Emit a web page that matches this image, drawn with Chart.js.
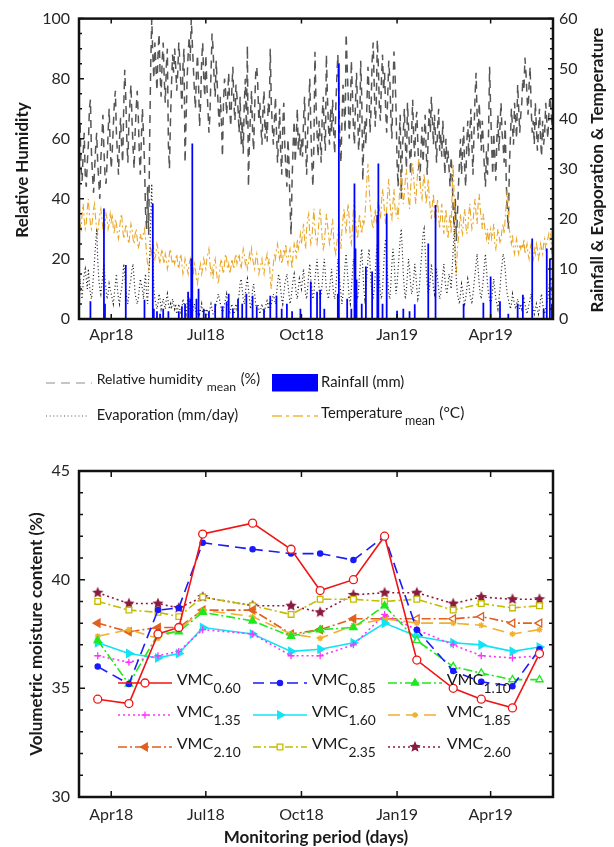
<!DOCTYPE html>
<html>
<head>
    <meta charset="utf-8">
    <title>Weather and soil moisture monitoring</title>
    <script src="https://cdn.jsdelivr.net/npm/chart.js"></script>
    <style>
        body {
            margin: 0;
            background: #ffffff;
        }

        #wrap {
            position: relative;
            width: 614px;
            height: 847px;
        }

        canvas {
            position: absolute;
            left: 0;
        }

        #weather { top: 0; }
        #moisture { top: 440px; }
    </style>
</head>
<body>
<div id="wrap">
    <canvas id="weather" width="614" height="440"></canvas>
    <canvas id="moisture" width="614" height="407"></canvas>
</div>

<script>
    // Day 0 is 1 Mar 2018, daily readings run until 31 May 2019
    const startDate = '2018-03-01';
    const tickDates = ['2018-04-01', '2018-07-01', '2018-10-01', '2019-01-01', '2019-04-01'];
    const tickLabels = ['Apr18', 'Jul18', 'Oct18', 'Jan19', 'Apr19'];

    // Relative humidity mean (%), one value per day (left axis)
    const humidity = [
        58, 66, 50, 46, 55, 62, 48, 44, 52, 58, 70, 73, 55, 48, 42, 50, 57, 62, 52, 46, 40, 53, 60, 68, 56, 48, 45, 52, 62, 70, 58,
        50, 56, 64, 72, 76, 62, 55, 48, 60, 67, 58, 52, 70, 83, 74, 60, 52, 65, 72, 78, 66, 57, 50, 62, 70, 76, 68, 55, 48, 60,
        70, 62, 52, 36, 30, 44, 28, 60, 85, 100, 88, 80, 92, 84, 76, 88, 95, 82, 74, 86, 92, 80, 72, 84, 90, 58, 50, 66, 78, 88, 82,
        90, 84, 76, 82, 92, 86, 78, 70, 84, 90, 52, 66, 80, 88, 94, 86, 100, 92, 84, 76, 70, 82, 88, 78, 64, 72, 86, 92, 80, 74,
        88, 78, 70, 62, 68, 82, 95, 90, 80, 74, 86, 78, 70, 64, 74, 66, 54, 72, 80, 76, 68, 74, 82, 70, 64, 76, 84, 72, 66, 78, 74,
        70, 62, 74, 58, 66, 55, 72, 80, 64, 91, 44, 60, 68, 76, 62, 56, 70, 82, 84, 78, 66, 72, 64, 58, 70, 76, 60, 66, 59, 72, 68,
        90, 72, 64, 58, 66, 74, 62, 52, 60, 70, 56, 48, 64, 72, 58, 50, 44, 60, 52, 38, 28, 46, 58, 66, 52, 60, 70, 56, 62, 54,
        60, 54, 66, 74, 58, 48, 62, 70, 80, 64, 52, 44, 58, 89, 72, 62, 54, 66, 60, 52, 68, 74, 62, 56, 88, 74, 64, 58, 70, 62, 73,
        62, 55, 70, 80, 88, 72, 60, 52, 66, 78, 70, 62, 95, 84, 74, 60, 68, 86, 76, 64, 58, 72, 82, 70, 56, 62, 86, 74, 46, 60,
        66, 58, 72, 84, 76, 62, 70, 86, 92, 78, 64, 72, 93, 84, 70, 66, 80, 88, 76, 82, 70, 62, 74, 86, 80, 68, 60, 76, 89, 82, 70,
        52, 44, 60, 68, 40, 56, 62, 70, 58, 50, 72, 64, 56, 48, 62, 73, 60, 54, 66, 69, 58, 50, 46, 56, 64, 52, 60, 68, 56, 48, 62,
        70, 62, 74, 66, 58, 68, 60, 52, 64, 70, 56, 62, 54, 66, 58, 48, 60, 52, 56, 50, 44, 54, 48, 36, 30, 40, 26, 34,
        44, 52, 60, 48, 56, 64, 50, 44, 58, 66, 54, 62, 70, 58, 48, 62, 74, 82, 68, 60, 72, 64, 56, 66, 58, 50, 44, 56, 48, 62, 84,
        70, 58, 48, 62, 54, 46, 60, 68, 56, 64, 72, 62, 58, 52, 66, 46, 36, 30, 50, 60, 70, 64, 58, 72, 66, 60, 78, 70, 62, 68,
        72, 80, 76, 87, 82, 74, 68, 78, 84, 70, 62, 66, 58, 72, 64, 56, 62, 70, 60, 54, 66, 58, 62, 72, 66, 60, 68, 74, 70, 64, 72
    ];

    // Temperature mean (°C), one value per day (right axis)
    const temperature = [
        22, 19, 18, 21, 23, 20, 18, 19, 22, 24, 21, 19, 18, 20, 22, 23, 20, 18, 17, 19, 21, 22, 20, 18, 17, 19, 21, 20, 18, 19, 21,
        19, 21, 18, 17, 20, 19, 17, 16, 18, 20, 21, 18, 16, 17, 19, 18, 16, 15, 17, 19, 18, 16, 15, 17, 18, 16, 14, 15, 17, 16,
        16, 17, 18, 16, 13, 11, 10, 12, 14, 13, 15, 14, 12, 13, 15, 14, 12, 11, 13, 14, 12, 11, 13, 12, 10, 11, 13, 14, 12, 11, 12,
        11, 12, 13, 11, 10, 12, 13, 11, 9, 10, 12, 11, 10, 9, 11, 12, 10, 8, 9, 11, 10, 8, 7, 9, 10, 11, 9, 10, 12, 11,
        10, 12, 13, 14, 11, 9, 10, 8, 11, 12, 10, 8, 7, 9, 11, 12, 10, 9, 11, 13, 12, 10, 11, 9, 10, 12, 11, 10, 12, 13, 11,
        12, 13, 11, 10, 12, 14, 13, 11, 12, 10, 11, 13, 12, 14, 12, 11, 10, 12, 13, 11, 9, 10, 11, 12, 10, 9, 11, 12, 13, 11, 12,
        8, 6, 9, 11, 13, 12, 14, 15, 13, 12, 14, 11, 12, 14, 13, 15, 12, 11, 13, 14, 12, 10, 13, 15, 14, 12, 16, 14, 15, 17,
        15, 17, 19, 16, 14, 18, 20, 21, 17, 15, 16, 19, 22, 18, 16, 15, 17, 20, 22, 19, 16, 14, 15, 18, 21, 19, 17, 15, 16, 18, 20,
        16, 14, 13, 15, 17, 19, 16, 14, 18, 20, 22, 19, 17, 21, 23, 20, 16, 15, 18, 22, 24, 20, 17, 16, 19, 21, 18, 17, 20, 19,
        20, 24, 28, 31, 27, 23, 21, 19, 18, 20, 22, 19, 21, 24, 22, 20, 23, 26, 24, 21, 19, 22, 25, 28, 24, 21, 20, 23, 26, 22, 21,
        22, 20, 24, 27, 29, 26, 23, 25, 28, 30, 27, 24, 22, 26, 29, 31, 28, 25, 23, 27, 30, 32, 28, 25, 24, 27, 29, 26, 23, 25, 28,
        24, 22, 20, 23, 25, 21, 19, 22, 24, 20, 18, 21, 23, 19, 17, 20, 22, 18, 16, 19, 21, 17, 26, 31, 24, 12, 9, 14,
        16, 19, 21, 18, 17, 20, 22, 19, 17, 18, 21, 23, 20, 18, 19, 22, 24, 21, 19, 23, 25, 22, 20, 18, 21, 19, 17, 16, 18, 15, 17,
        18, 16, 17, 19, 15, 14, 16, 18, 17, 15, 16, 18, 19, 17, 20, 23, 26, 22, 18, 16, 15, 17, 14, 13, 15, 16, 14, 13, 15, 14,
        15, 14, 16, 13, 14, 15, 13, 12, 14, 15, 13, 12, 14, 13, 15, 14, 12, 13, 15, 14, 13, 15, 16, 14, 15, 16, 17, 16, 17, 12, 10
    ];

    // Evaporation (mm/day), one value per day (right axis)
    const evaporation = [
        6, 8, 5, 4, 7, 9, 10, 8, 6, 10, 7, 5, 4, 6, 9, 12, 15, 18, 12, 8, 6, 5, 7, 9, 11, 8, 6, 4, 5, 7, 6,
        5, 4, 3, 5, 7, 9, 6, 4, 3, 5, 6, 8, 11, 9, 6, 4, 3, 5, 7, 8, 10, 11, 8, 5, 4, 3, 4, 6, 8, 7,
        6, 4, 7, 9, 5, 3, 8, 12, 20, 27, 14, 6, 4, 3, 2, 3, 5, 4, 2, 3, 4, 3, 2, 4, 5, 3, 2, 3, 2, 4, 3,
        2, 3, 1, 2, 3, 2, 1, 2, 4, 3, 2, 1, 3, 5, 4, 2, 1, 1, 2, 3, 2, 1, 1, 2, 1, 2, 3, 1, 1, 2,
        1, 2, 1, 1, 2, 3, 2, 1, 1, 2, 3, 4, 5, 4, 3, 2, 1, 2, 3, 4, 5, 3, 2, 1, 2, 3, 2, 1, 2, 3, 2,
        3, 5, 7, 8, 6, 4, 3, 5, 7, 8, 6, 4, 2, 3, 6, 7, 5, 3, 2, 3, 2, 1, 2, 3, 2, 1, 2, 3, 4, 2, 3,
        2, 3, 4, 5, 4, 3, 5, 7, 9, 8, 6, 4, 3, 5, 7, 8, 9, 7, 5, 3, 4, 6, 8, 9, 7, 5, 4, 6, 8, 7,
        6, 8, 10, 7, 5, 4, 6, 9, 11, 8, 6, 4, 5, 8, 10, 12, 9, 6, 4, 5, 7, 10, 12, 9, 6, 5, 4, 6, 8, 10, 7,
        5, 4, 6, 9, 12, 10, 7, 5, 3, 5, 8, 11, 13, 10, 7, 4, 3, 6, 9, 12, 10, 7, 5, 4, 6, 9, 12, 14, 10, 6,
        4, 6, 9, 12, 14, 11, 7, 5, 4, 6, 9, 13, 15, 12, 8, 5, 4, 6, 10, 14, 16, 12, 8, 5, 4, 7, 11, 14, 12, 8, 5,
        7, 10, 13, 16, 18, 14, 9, 6, 4, 6, 9, 12, 10, 7, 5, 6, 8, 11, 9, 6, 4, 5, 8, 11, 14, 17, 18, 14, 10, 7, 5,
        6, 8, 11, 9, 6, 5, 7, 10, 8, 6, 4, 5, 7, 9, 11, 8, 6, 5, 7, 9, 8, 6, 10, 14, 18, 12, 8, 5,
        4, 3, 5, 7, 6, 4, 3, 4, 6, 8, 7, 5, 4, 3, 5, 7, 9, 11, 13, 10, 7, 5, 4, 6, 8, 11, 13, 10, 7, 5, 4,
        3, 4, 6, 8, 6, 4, 3, 2, 4, 6, 9, 11, 13, 12, 10, 7, 5, 4, 3, 2, 3, 5, 4, 3, 2, 3, 4, 3, 2, 3,
        2, 3, 4, 3, 2, 1, 2, 3, 4, 5, 3, 2, 1, 2, 3, 2, 1, 2, 4, 5, 3, 2, 1, 2, 3, 4, 6, 8, 7, 5, 3
    ];

    // Rainfall (mm): only the rainy days, as day numbers counted from startDate
    const rainDay = [11, 24, 25, 45, 63, 71, 72, 75, 78, 81, 86, 96, 99, 102, 105, 107, 108, 109, 113, 115,
        120, 125, 131, 138, 142, 144, 148, 153, 157, 161, 167, 171, 178, 184, 190, 195, 200, 205, 213, 223,
        229, 232, 236, 249, 250, 258, 262, 265, 266, 267, 272, 276, 282, 287, 288, 292, 296, 306, 312, 318,
        323, 336, 343, 370, 389, 396, 405, 413, 422, 427, 436, 447, 450, 453, 455];
    const rainMm = [3.5, 22, 3, 10.7, 3.8, 23, 2, 1.5, 1, 2, 1.5, 1.5, 2.5, 3, 5.4, 4, 12, 35, 4, 6,
        2, 1.5, 3, 2.5, 3.4, 5, 2, 4, 3, 5, 4.6, 2.5, 2, 4.6, 4.6, 2, 3, 1.5, 2, 7.4,
        5.4, 5.8, 2, 5, 51, 4, 2, 27, 14, 7.8, 3, 10.4, 9.4, 20.7, 31, 3, 21, 1.6, 2, 1.5,
        2.9, 15, 22.7, 3, 3.2, 8.4, 3.5, 1, 3, 4.8, 16, 2, 14, 12, 3];

    // Volumetric moisture content (%) at each depth (m), monthly readings
    const vmcDates = ['2018-03-19', '2018-04-18', '2018-05-16', '2018-06-05', '2018-06-28', '2018-08-15',
        '2018-09-21', '2018-10-19', '2018-11-20', '2018-12-20', '2019-01-20', '2019-02-24',
        '2019-03-23', '2019-04-22', '2019-05-18'];
    const vmcDepths = ['0.60', '0.85', '1.10', '1.35', '1.60', '1.85', '2.10', '2.35', '2.60'];
    const vmc060 = [34.5, 34.3, 37.5, 37.8, 42.1, 42.6, 41.4, 39.5, 40.0, 42.0, 36.3, 35.0, 34.5, 34.1, 36.6];
    const vmc085 = [36.0, 35.2, 38.6, 38.7, 41.7, 41.4, 41.2, 41.2, 40.9, 42.0, 37.7, 35.8, 35.3, 35.1, 36.8];
    const vmc110 = [37.2, 35.2, 37.5, 37.6, 38.5, 38.1, 37.4, 37.7, 37.8, 38.8, 37.2, 36.0, 35.7, 35.4, 35.4];
    const vmc135 = [36.5, 36.2, 36.5, 36.7, 37.7, 37.5, 36.5, 36.5, 37.0, 38.4, 37.7, 37.0, 36.5, 36.4, 36.5];
    const vmc160 = [37.1, 36.6, 36.4, 36.6, 37.8, 37.5, 36.7, 36.8, 37.1, 38.0, 37.4, 37.1, 37.0, 36.7, 36.9];
    const vmc185 = [37.4, 37.7, 37.3, 37.7, 38.6, 38.3, 37.5, 37.3, 37.9, 38.2, 38.0, 38.0, 37.9, 37.5, 37.7];
    const vmc210 = [38.0, 37.6, 37.8, 37.8, 38.6, 38.6, 37.5, 37.7, 38.2, 38.2, 38.2, 38.2, 38.3, 38.0, 38.0];
    const vmc235 = [39.0, 38.6, 38.5, 38.3, 39.2, 38.8, 38.4, 39.1, 39.1, 39.0, 39.1, 38.6, 38.9, 38.7, 38.8];
    const vmc260 = [39.4, 38.9, 38.9, 38.7, 39.2, 38.8, 38.8, 38.5, 39.3, 39.4, 39.4, 38.9, 39.2, 39.1, 39.1];

    // ------------------------------------------------------------------

    const FONT = 'Lato, "Open Sans", sans-serif';
    Chart.defaults.font.family = FONT;
    Chart.defaults.font.size = 16;
    Chart.defaults.color = '#262626';

    function dayOf(d) {
        return Math.round((Date.parse(d) - Date.parse(startDate)) / 864e5);
    }
    const tickDays = tickDates.map(dayOf);
    const vmcDays = vmcDates.map(dayOf);
    const lastDay = humidity.length - 1;

    function series(values) {
        return values.map((v, i) => ({ x: i, y: v }));
    }

    // shared time axis, labels only at the quarter starts
    function timeAxis(height, pad) {
        return {
            type: 'linear',
            min: 0,
            max: lastDay,
            offset: false,
            grid: { display: false, drawTicks: false },
            border: { display: false },
            afterBuildTicks: s => { s.ticks = tickDays.map(v => ({ value: v })); },
            ticks: { padding: pad, maxRotation: 0, autoSkip: false, callback: (v, i) => tickLabels[i] },
            afterFit: s => { s.height = height; }
        };
    }

    function valueAxis(pos, min, max, step, width, pad) {
        return {
            type: 'linear',
            position: pos,
            min: min,
            max: max,
            grid: { display: false, drawTicks: false },
            border: { display: false },
            ticks: { stepSize: step, padding: pad },
            afterFit: s => { s.width = width; }
        };
    }

    // text pieces: [text, x, dy, width] - the font size is fitted to the width
    function drawRich(ctx, y, parts) {
        parts.forEach(p => {
            ctx.font = '20px ' + FONT;
            const size = 20 * p[3] / ctx.measureText(p[0]).width;
            ctx.font = size.toFixed(2) + 'px ' + FONT;
            ctx.fillText(p[0], p[1], y + p[2]);
        });
    }

    // plot frame with inward tick marks
    const framePlugin = {
        id: 'frame',
        afterDatasetsDraw(chart, args, opts) {
            const { ctx, chartArea: a, scales } = chart;
            ctx.save();
            ctx.strokeStyle = '#111';
            ctx.lineWidth = opts.width;
            ctx.strokeRect(a.left, a.top, a.right - a.left, a.bottom - a.top);
            ctx.lineWidth = 1.5;
            ctx.beginPath();
            tickDays.forEach(d => {
                const x = scales.x.getPixelForValue(d);
                ctx.moveTo(x, a.top);
                ctx.lineTo(x, a.top + opts.major);
                ctx.moveTo(x, a.bottom);
                ctx.lineTo(x, a.bottom - opts.major);
            });
            opts.sides.forEach(sd => {
                const sc = scales[sd.axis];
                const n = Math.round((sc.max - sc.min) / sd.step);
                const x0 = sd.side === 'left' ? a.left : a.right;
                const dir = sd.side === 'left' ? 1 : -1;
                for (let k = 0; k <= n; k++) {
                    const v = sc.min + k * sd.step;
                    const y = sc.getPixelForValue(v);
                    const len = (k * sd.step) % sd.major === 0 ? opts.major : opts.minor;
                    ctx.moveTo(x0, y);
                    ctx.lineTo(x0 + dir * len, y);
                }
            });
            ctx.stroke();
            ctx.restore();
        }
    };

    // bold axis titles
    const titlePlugin = {
        id: 'titles',
        afterDraw(chart, args, opts) {
            const ctx = chart.ctx;
            ctx.save();
            ctx.fillStyle = '#1a1a1a';
            ctx.font = 'bold 17px ' + FONT;
            ctx.textAlign = 'center';
            ctx.textBaseline = 'middle';
            opts.items.forEach(t => {
                ctx.save();
                ctx.translate(t.x, t.y);
                ctx.rotate(t.rot * Math.PI / 180);
                ctx.fillText(t.text, 0, 0);
                ctx.restore();
            });
            ctx.restore();
        }
    };

    // key under the weather panel
    const weatherKey = [
        { x: 46, y: 383, w: 46, kind: 'line', color: '#c6c6c6', dash: [9, 6], lw: 2,
            text: [['Relative humidity', 96.7, 1.3, 106], ['mean', 206.7, 8, 29.3], ['(%)', 240.7, 0.5, 19.3]] },
        { x: 272, y: 383, w: 46, kind: 'box', color: '#0000ff',
            text: [['Rainfall (mm)', 321, 4, 83.3]] },
        { x: 46, y: 416, w: 43, kind: 'line', color: '#555555', dash: [1, 2.6], lw: 1.2,
            text: [['Evaporation (mm/day)', 96.7, 4, 141.6]] },
        { x: 272, y: 416, w: 46, kind: 'line', color: '#f5c86a', dash: [10, 4, 3, 4], lw: 2,
            text: [['Temperature', 321, 1.5, 81.7], ['mean', 405, 9, 30], ['(\u00B0C)', 439.3, 1.5, 25]] }
    ];

    const weatherKeyPlugin = {
        id: 'weatherKey',
        afterDraw(chart) {
            const ctx = chart.ctx;
            ctx.save();
            weatherKey.forEach(k => {
                if (k.kind === 'box') {
                    ctx.fillStyle = k.color;
                    ctx.fillRect(k.x, k.y - 9, k.w, 17.5);
                } else {
                    ctx.strokeStyle = k.color;
                    ctx.lineWidth = k.lw;
                    ctx.setLineDash(k.dash);
                    ctx.beginPath();
                    ctx.moveTo(k.x, k.y);
                    ctx.lineTo(k.x + k.w, k.y);
                    ctx.stroke();
                    ctx.setLineDash([]);
                }
                ctx.fillStyle = '#1a1a1a';
                ctx.textBaseline = 'alphabetic';
                drawRich(ctx, k.y, k.text);
            });
            ctx.restore();
        }
    };

    // Top panel: humidity, rainfall, evaporation, temperature
    new Chart(document.getElementById('weather'), {
        type: 'line',
        data: {
            datasets: [
                {
                    type: 'bar',
                    label: 'Rainfall (mm)',
                    data: rainDay.map((d, i) => ({ x: d, y: rainMm[i] })),
                    backgroundColor: '#0000ff',
                    barThickness: 1.1,
                    grouped: false,
                    yAxisID: 'y2'
                },
                {
                    label: 'Evaporation (mm/day)',
                    data: series(evaporation),
                    borderColor: '#1a1a1a',
                    borderWidth: 1.2,
                    borderDash: [1, 2.5],
                    pointRadius: 0,
                    yAxisID: 'y2'
                },
                {
                    label: 'Temperature mean (°C)',
                    data: series(temperature),
                    borderColor: '#eaa82a',
                    borderWidth: 1.1,
                    borderDash: [7, 3, 2, 3],
                    pointRadius: 0,
                    yAxisID: 'y2'
                },
                {
                    label: 'Relative humidity mean (%)',
                    data: series(humidity),
                    borderColor: '#555555',
                    borderWidth: 1.5,
                    borderDash: [8, 6],
                    pointRadius: 0,
                    yAxisID: 'y'
                }
            ]
        },
        options: {
            responsive: false,
            animation: false,
            events: [],
            layout: { autoPadding: false, padding: { top: 18, right: 0, bottom: 0, left: 0 } },
            scales: {
                x: timeAxis(121, 6),
                y: valueAxis('left', 0, 100, 20, 79, 9),
                y2: valueAxis('right', 0, 60, 10, 61, 6)
            },
            plugins: {
                legend: { display: false },
                tooltip: { enabled: false },
                frame: {
                    width: 2.5, major: 5, minor: 3,
                    sides: [{ axis: 'y', side: 'left', step: 5, major: 20 },
                        { axis: 'y2', side: 'right', step: 2, major: 10 }]
                },
                titles: {
                    items: [{ text: 'Relative Humidity', x: 23, y: 170, rot: -90 },
                        { text: 'Rainfall & Evaporation & Temperature', x: 598, y: 170, rot: -90 }]
                }
            }
        },
        plugins: [framePlugin, titlePlugin, weatherKeyPlugin]
    });

    // ------------------------------------------------------------------
    // Bottom panel: volumetric moisture content by depth

    function starImage(color, r) {
        const c = document.createElement('canvas');
        c.width = c.height = 2 * r + 2;
        const g = c.getContext('2d');
        g.translate(r + 1, r + 1);
        g.beginPath();
        for (let i = 0; i < 10; i++) {
            const rad = i % 2 ? r * 0.45 : r;
            const ang = -Math.PI / 2 + i * Math.PI / 5;
            g.lineTo(rad * Math.cos(ang), rad * Math.sin(ang));
        }
        g.closePath();
        g.fillStyle = color;
        g.fill();
        return c;
    }

    const vmcValues = [vmc060, vmc085, vmc110, vmc135, vmc160, vmc185, vmc210, vmc235, vmc260];
    // openFrom: index from which the markers are drawn hollow
    const vmcStyles = [
        { color: '#f01414', dash: [], point: 'circle', radius: 4, rot: 0, openFrom: 0 },
        { color: '#1a1aff', dash: [11, 6], point: 'circle', radius: 2.6, rot: 0, openFrom: 99 },
        { color: '#1ee81e', dash: [9, 3, 2, 3], point: 'triangle', radius: 4.2, rot: 0, openFrom: 10 },
        { color: '#ff33ff', dash: [2, 3], point: 'cross', radius: 3.5, rot: 0, openFrom: 99 },
        { color: '#10e4f4', dash: [], point: 'triangle', radius: 4.5, rot: 90, openFrom: 99 },
        { color: '#f0b030', dash: [12, 6], point: 'star', radius: 3, rot: 0, openFrom: 99 },
        { color: '#e0601e', dash: [9, 3, 2, 3], point: 'triangle', radius: 4.5, rot: -90, openFrom: 10 },
        { color: '#c4bc00', dash: [8, 3, 2, 3], point: 'rect', radius: 4, rot: 0, openFrom: 0 },
        { color: '#8b1a3e', dash: [2, 3], point: starImage('#8b1a3e', 6), radius: 6, rot: 0, openFrom: 99 }
    ];

    const vmcSets = vmcValues.map((vals, n) => {
        const s = vmcStyles[n];
        return {
            label: 'VMC ' + vmcDepths[n],
            data: vals.map((v, i) => ({ x: vmcDays[i], y: v })),
            borderColor: s.color,
            borderWidth: 1.6,
            borderDash: s.dash,
            pointStyle: s.point,
            pointRadius: s.radius,
            pointRotation: s.rot,
            pointBorderWidth: 1.3,
            pointBorderColor: s.color,
            pointBackgroundColor: vals.map((v, i) => i >= s.openFrom ? '#ffffff' : s.color)
        };
    });

    const vmcKeyPlugin = {
        id: 'vmcKey',
        afterDatasetsDraw(chart) {
            const { ctx, chartArea: a } = chart;
            ctx.save();
            vmcStyles.forEach((s, n) => {
                const x = a.left + 39 + (n % 3) * 135;
                const y = a.top + 212 + Math.floor(n / 3) * 32;
                ctx.strokeStyle = s.color;
                ctx.lineWidth = 1.6;
                ctx.setLineDash(s.dash);
                ctx.beginPath();
                ctx.moveTo(x, y);
                ctx.lineTo(x + 54, y);
                ctx.stroke();
                ctx.setLineDash([]);
                ctx.lineWidth = 1.3;
                ctx.fillStyle = s.openFrom === 0 ? '#ffffff' : s.color;
                Chart.helpers.drawPoint(ctx, {
                    pointStyle: s.point, radius: s.radius, rotation: s.rot, borderWidth: 1.3
                }, x + 27, y);
                ctx.fillStyle = '#1a1a1a';
                ctx.textBaseline = 'alphabetic';
                drawRich(ctx, y, [['VMC', x + 58.7, 2, 36.7], [vmcDepths[n], x + 95.5, 10, 27.3]]);
            });
            ctx.restore();
        }
    };

    new Chart(document.getElementById('moisture'), {
        type: 'line',
        data: { datasets: vmcSets },
        options: {
            responsive: false,
            animation: false,
            events: [],
            layout: { autoPadding: false, padding: { top: 31, right: 61, bottom: 0, left: 0 } },
            scales: {
                x: timeAxis(50, 8),
                y: valueAxis('left', 30, 45, 5, 79, 9)
            },
            plugins: {
                legend: { display: false },
                tooltip: { enabled: false },
                frame: {
                    width: 2.5, major: 6, minor: 4,
                    sides: [{ axis: 'y', side: 'left', step: 1, major: 5 },
                        { axis: 'y', side: 'right', step: 1, major: 5 }]
                },
                titles: {
                    items: [{ text: 'Volumetric moisture content (%)', x: 37, y: 194, rot: -90 },
                        { text: 'Monitoring period (days)', x: 316, y: 398, rot: 0 }]
                }
            }
        },
        plugins: [framePlugin, titlePlugin, vmcKeyPlugin]
    });
</script>
</body>
</html>
